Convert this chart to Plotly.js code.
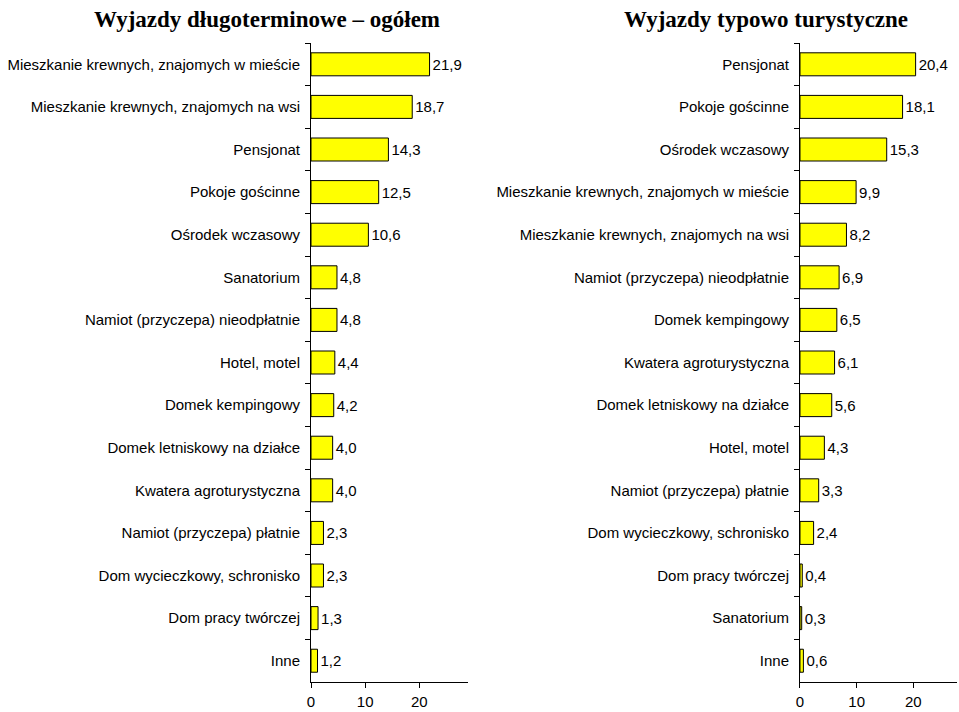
<!DOCTYPE html>
<html><head><meta charset="utf-8">
<script src="https://cdn.plot.ly/plotly-3.0.1.min.js"></script>
<style>html,body{margin:0;padding:0;background:#fff}</style>
</head><body>
<div id="chart" style="width:959px;height:712px"></div>
<script>
var leftTitle = "Wyjazdy długoterminowe – ogółem";
var rightTitle = "Wyjazdy typowo turystyczne";
var leftCategories = ["Mieszkanie krewnych, znajomych w mieście","Mieszkanie krewnych, znajomych na wsi","Pensjonat","Pokoje gościnne","Ośrodek wczasowy","Sanatorium","Namiot (przyczepa) nieodpłatnie","Hotel, motel","Domek kempingowy","Domek letniskowy na działce","Kwatera agroturystyczna","Namiot (przyczepa) płatnie","Dom wycieczkowy, schronisko","Dom pracy twórczej","Inne"];
var leftValues = [21.9,18.7,14.3,12.5,10.6,4.8,4.8,4.4,4.2,4.0,4.0,2.3,2.3,1.3,1.2];
var rightCategories = ["Pensjonat","Pokoje gościnne","Ośrodek wczasowy","Mieszkanie krewnych, znajomych w mieście","Mieszkanie krewnych, znajomych na wsi","Namiot (przyczepa) nieodpłatnie","Domek kempingowy","Kwatera agroturystyczna","Domek letniskowy na działce","Hotel, motel","Namiot (przyczepa) płatnie","Dom wycieczkowy, schronisko","Dom pracy twórczej","Sanatorium","Inne"];
var rightValues = [20.4,18.1,15.3,9.9,8.2,6.9,6.5,6.1,5.6,4.3,3.3,2.4,0.4,0.3,0.6];
var xTickVals = [0,10,20];

function fmt(v){return v.toFixed(1).replace('.',',');}
var font = {family:"Liberation Sans, Arial, sans-serif", size:15, color:"#000"};

function bar(cats, vals, xa, ya){
  return {type:'bar', orientation:'h', y:cats, x:vals, xaxis:xa, yaxis:ya,
    text: vals.map(fmt), textposition:'outside', cliponaxis:false,
    textfont:font, hoverinfo:'skip',
    marker:{color:'#FFFF00', line:{color:'#000', width:1}}};
}
function yax(anchor){
  return {type:'category', autorange:'reversed', anchor:anchor, domain:[0.0421,0.9396],
    showline:true, linecolor:'#000', linewidth:1, ticks:'outside', ticklen:5, tickcolor:'#000',
    tickson:'boundaries', showgrid:false, zeroline:false, tickfont:font, ticklabelstandoff:7};
}
function xax(anchor, dom, rng){
  return {anchor:anchor, domain:dom, range:rng, tickvals:xTickVals, ticktext:xTickVals.map(String),
    showline:true, linecolor:'#000', linewidth:1, ticks:'outside', ticklen:5, tickcolor:'#000',
    showgrid:false, zeroline:false, tickfont:font, ticklabelstandoff:1};
}
var titleFont = {family:"Liberation Serif, Times New Roman, serif", size:23, color:"#000"};
var layout = {
  width:959, height:712, margin:{l:0,r:0,t:0,b:0}, showlegend:false, bargap:0.46,
  paper_bgcolor:'#fff', plot_bgcolor:'#fff', separators:',.',
  xaxis: xax('y', [0.3243,0.4880], [0,29]),
  yaxis: yax('x'),
  xaxis2: xax('y2', [0.8342,0.9979], [0,27.7]),
  yaxis2: yax('x2'),
  annotations:[
    {text:'<b>'+leftTitle+'</b>', xref:'paper', yref:'paper', x:267/959, y:1-19/712, showarrow:false, font:titleFont, xanchor:'center', yanchor:'middle'},
    {text:'<b>'+rightTitle+'</b>', xref:'paper', yref:'paper', x:766/959, y:1-19/712, showarrow:false, font:titleFont, xanchor:'center', yanchor:'middle'}
  ]
};
Plotly.newPlot('chart', [bar(leftCategories,leftValues,'x','y'), bar(rightCategories,rightValues,'x2','y2')], layout, {staticPlot:true});
</script>
</body></html>
